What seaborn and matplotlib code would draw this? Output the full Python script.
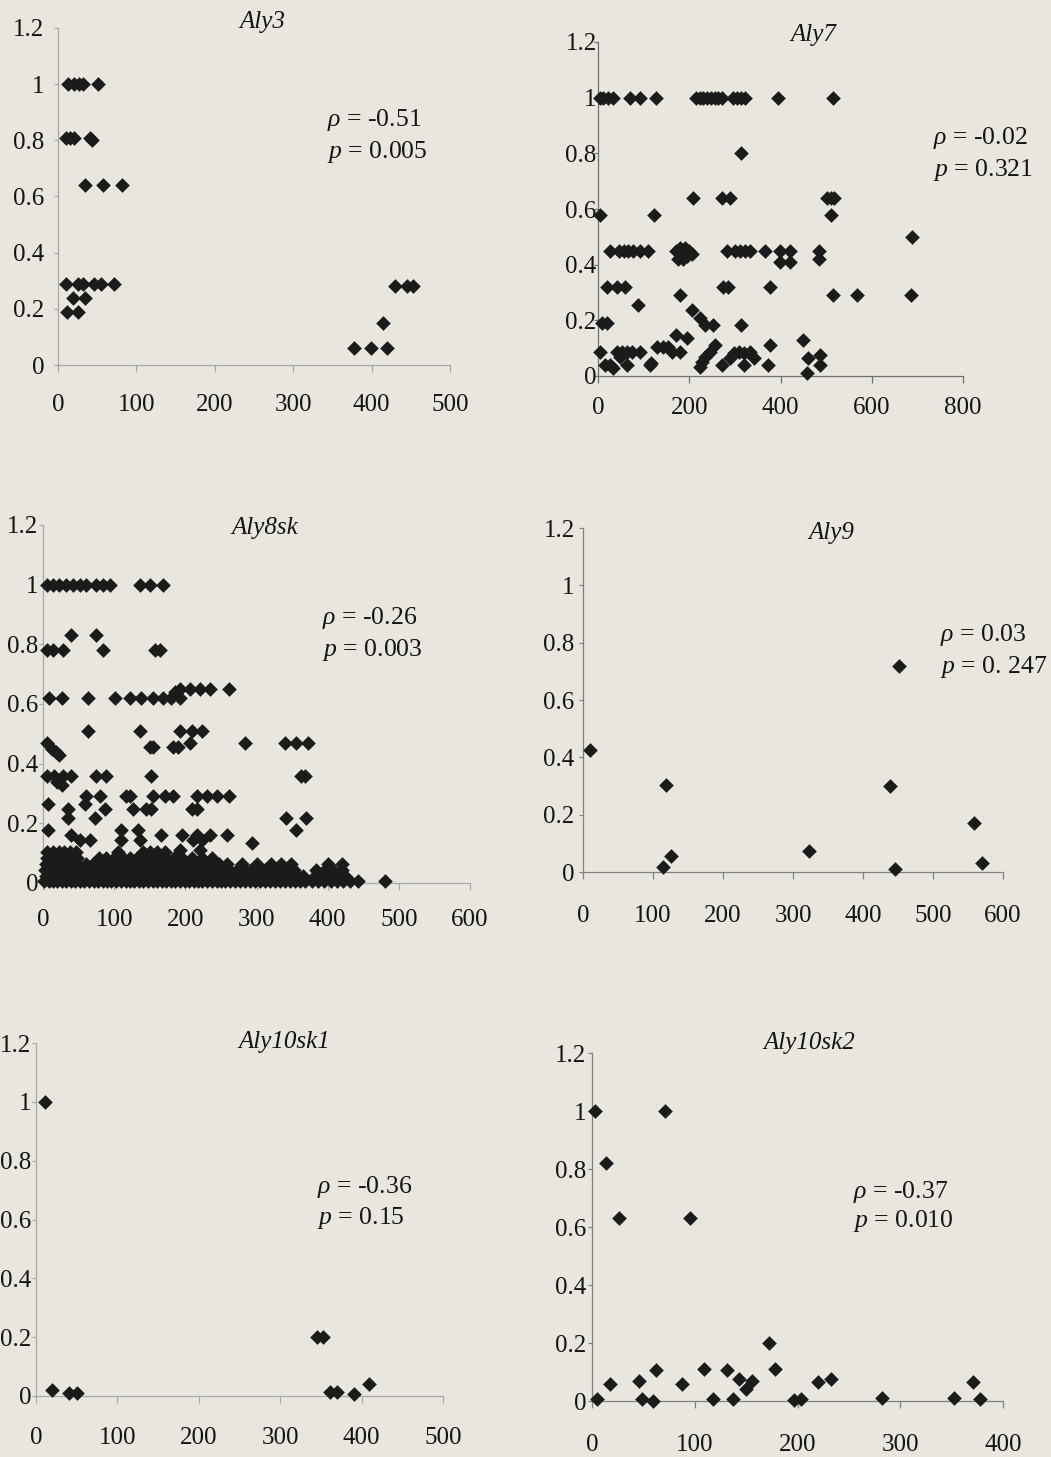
import matplotlib
matplotlib.use("Agg")
import matplotlib.pyplot as plt
import seaborn as sns
from matplotlib.ticker import FixedLocator, FixedFormatter

# ---------------- data ----------------
y_ticks = [0, 0.2, 0.4, 0.6, 0.8, 1, 1.2]
y_tick_labels = ["0", "0.2", "0.4", "0.6", "0.8", "1", "1.2"]

aly3_x = [13, 20, 27, 32, 51, 10, 15, 20, 41, 44, 35, 58, 82,
          10, 25, 32, 46, 55, 72, 19, 34, 11, 26,
          430, 445, 453, 414, 378, 399, 420]
aly3_y = [1, 1, 1, 1, 1, 0.81, 0.81, 0.81, 0.81, 0.80, 0.64, 0.64, 0.64,
          0.29, 0.29, 0.29, 0.29, 0.29, 0.29, 0.24, 0.24, 0.19, 0.19,
          0.28, 0.28, 0.28, 0.15, 0.06, 0.06, 0.06]

aly7_x = [4, 12, 22, 32, 70, 92, 127, 215, 223, 231, 239, 247, 256, 264, 272,
          296, 305, 313, 322, 395, 515,
          313,
          209, 271, 289, 503, 510, 517,
          4, 123, 511,
          688,
          26, 45, 56, 66, 77, 92, 110, 282, 300, 312, 322, 333, 366, 399, 421, 485,
          172, 180, 190, 200, 176, 186, 196, 205,
          399, 421, 485,
          19, 41, 59, 275, 285, 377,
          179, 515, 568, 686,
          88, 8, 19,
          205, 224, 235, 251, 313, 171, 194, 376, 449,
          4, 41, 52, 63, 74, 92, 129, 143, 154, 162, 180, 257, 246, 235, 227, 224,
          297, 308, 319, 333, 341, 289, 15, 26, 63, 114, 271, 320, 373, 48,
          461, 487, 487, 458, 32, 117]
aly7_y = [1, 1, 1, 1, 1, 1, 1, 1, 1, 1, 1, 1, 1, 1, 1,
          1, 1, 1, 1, 1, 1,
          0.80,
          0.64, 0.64, 0.64, 0.64, 0.64, 0.64,
          0.58, 0.58, 0.58,
          0.50,
          0.45, 0.45, 0.45, 0.45, 0.45, 0.45, 0.45, 0.45, 0.45, 0.45, 0.45, 0.45, 0.45, 0.45, 0.45, 0.45,
          0.45, 0.46, 0.46, 0.45, 0.42, 0.42, 0.43, 0.44,
          0.41, 0.41, 0.42,
          0.32, 0.32, 0.32, 0.32, 0.32, 0.32,
          0.29, 0.29, 0.29, 0.29,
          0.255, 0.19, 0.19,
          0.237, 0.207, 0.183, 0.183, 0.183, 0.147, 0.135, 0.111, 0.13,
          0.087, 0.087, 0.087, 0.087, 0.087, 0.087, 0.105, 0.105, 0.105, 0.087, 0.087,
          0.111, 0.087, 0.07, 0.052, 0.034,
          0.082, 0.087, 0.082, 0.087, 0.064, 0.064, 0.04, 0.04, 0.04, 0.04, 0.04, 0.04, 0.04, 0.07,
          0.064, 0.076, 0.04, 0.01, 0.03, 0.045]

aly8_top_x = [5, 14, 23, 33, 42, 52, 61, 75, 84, 94, 136, 150, 169,
              40, 75, 5, 14, 28, 84, 157, 164,
              192, 206, 220, 234, 185, 262,
              9, 26, 63, 101, 122, 138, 155, 169, 180, 192,
              63, 136, 192, 209, 223,
              206, 284, 340, 356, 373,
              5, 12, 18, 22, 150, 155, 183, 190,
              5, 16, 28, 40, 75, 89, 152, 363, 368, 26, 20,
              61, 80, 117, 122, 155, 171, 183, 216, 230, 244, 262,
              7, 59,
              35, 87, 127, 145, 152, 209, 216,
              35, 73, 342, 370,
              7, 110, 134, 356,
              40, 166, 195, 216, 234, 258,
              52, 66, 110, 136, 211, 223,
              293, 192, 220]
aly8_top_y = [1, 1, 1, 1, 1, 1, 1, 1, 1, 1, 1, 1, 1,
              0.83, 0.83, 0.78, 0.78, 0.78, 0.78, 0.78, 0.78,
              0.65, 0.65, 0.65, 0.65, 0.64, 0.65,
              0.62, 0.62, 0.62, 0.62, 0.62, 0.62, 0.62, 0.62, 0.62, 0.62,
              0.51, 0.51, 0.51, 0.51, 0.51,
              0.47, 0.47, 0.47, 0.47, 0.47,
              0.47, 0.45, 0.44, 0.43, 0.455, 0.455, 0.455, 0.455,
              0.36, 0.36, 0.36, 0.36, 0.36, 0.36, 0.36, 0.36, 0.36, 0.33, 0.34,
              0.29, 0.29, 0.29, 0.29, 0.29, 0.29, 0.29, 0.29, 0.29, 0.29, 0.29,
              0.266, 0.266,
              0.248, 0.248, 0.248, 0.248, 0.248, 0.248, 0.248,
              0.218, 0.218, 0.218, 0.218,
              0.179, 0.179, 0.179, 0.179,
              0.16, 0.16, 0.16, 0.16, 0.16, 0.16,
              0.145, 0.145, 0.145, 0.145, 0.145, 0.145,
              0.134, 0.11, 0.11]
# dense band near zero, one list of x positions per row
aly8_band_00 = [2, 8, 14, 20, 27, 33, 39, 45, 52, 58, 64, 71, 77, 84, 90, 96, 103, 109,
                116, 122, 128, 135, 141, 148, 154, 160, 167, 173, 180, 186, 192, 199,
                205, 212, 218, 224, 231, 237, 244, 250, 256, 263, 270, 277, 284, 291,
                298, 305, 312, 319, 326, 333, 340, 347, 354, 361, 368, 378, 386, 395,
                404, 413, 422, 432, 443, 480]
aly8_band_02 = [4, 11, 17, 24, 30, 37, 43, 50, 56, 63, 69, 76, 82, 89, 95, 102, 108, 115,
                121, 128, 134, 141, 147, 154, 160, 167, 173, 180, 186, 193, 199, 206,
                212, 219, 225, 232, 238, 245, 252, 260, 268, 276, 285, 294, 303, 312,
                321, 330, 339, 348, 357, 366, 382, 392, 402, 412, 424]
aly8_band_04 = [3, 9, 16, 22, 29, 35, 42, 49, 56, 63, 70, 77, 84, 91, 98, 105, 112, 119,
                126, 133, 140, 147, 154, 161, 168, 175, 182, 189, 196, 203, 210, 217,
                224, 231, 238, 245, 253, 262, 272, 282, 292, 302, 312, 322, 332, 342,
                352, 384, 396, 408, 420]
aly8_band_06 = [4, 11, 18, 25, 32, 40, 48, 60, 70, 80, 90, 100, 110, 120, 128, 136, 144,
                152, 160, 168, 178, 188, 198, 208, 218, 228, 238, 248, 258, 280, 300,
                320, 335, 348, 400, 420]
aly8_band_08 = [5, 12, 19, 26, 33, 40, 48, 78, 88, 100, 112, 122, 132, 142, 152, 162,
                172, 184, 196, 210, 224, 238]
aly8_band_10 = [6, 14, 22, 30, 38, 46, 105, 140, 150, 160, 172]
aly8_band_levels = [0.008, 0.025, 0.045, 0.065, 0.085, 0.105]

aly9_x = [10, 119, 114, 125, 323, 439, 445, 452, 559, 570]
aly9_y = [0.425, 0.303, 0.017, 0.055, 0.072, 0.30, 0.012, 0.719, 0.171, 0.031]

aly10sk1_x = [11, 20, 40, 50, 345, 352, 361, 370, 391, 409]
aly10sk1_y = [1.0, 0.02, 0.011, 0.011, 0.20, 0.20, 0.015, 0.015, 0.006, 0.04]

aly10sk2_x = [3, 5, 14, 18, 26, 46, 49, 59, 62, 71, 88, 95, 109, 118, 131, 137, 143,
              150, 156, 172, 178, 197, 203, 220, 233, 282, 352, 371, 378]
aly10sk2_y = [1.0, 0.006, 0.82, 0.058, 0.63, 0.069, 0.006, 0.0, 0.106, 1.0, 0.058, 0.63,
              0.11, 0.006, 0.106, 0.006, 0.077, 0.043, 0.069, 0.199, 0.11, 0.002, 0.006,
              0.066, 0.075, 0.012, 0.012, 0.064, 0.006]

names = ["Aly3", "Aly7", "Aly8sk", "Aly9", "Aly10sk1", "Aly10sk2"]
rho_text = ["-0.51", "-0.02", "-0.26", "0.03", "-0.36", "-0.37"]
p_text = ["0.005", "0.321", "0.003", "0. 247", "0.15", "0.010"]
x_max = [500, 800, 600, 600, 500, 400]
x_step = [100, 200, 100, 100, 100, 100]

# assemble Aly8sk
aly8_x = list(aly8_top_x)
aly8_y = list(aly8_top_y)
for lvl, row in zip(aly8_band_levels, [aly8_band_00, aly8_band_02, aly8_band_04,
                                       aly8_band_06, aly8_band_08, aly8_band_10]):
    aly8_x += row
    aly8_y += [lvl] * len(row)

series = [(aly3_x, aly3_y), (aly7_x, aly7_y), (aly8_x, aly8_y),
          (aly9_x, aly9_y), (aly10sk1_x, aly10sk1_y), (aly10sk2_x, aly10sk2_y)]

# ---------------- layout (pixels of the 1051x1457 canvas) ----------------
W, H = 1051, 1457
# x0, x1, y_bottom, y_top
boxes = [(58, 450, 365, 28), (598, 963, 376, 42), (43, 470, 883, 525),
         (583, 1003, 872, 528), (36, 443, 1396, 1043), (592, 1003, 1401, 1053)]
title_pos = [(262, 22), (813, 35), (265, 528), (831, 533), (284, 1042), (809, 1043)]
ann_pos = [(327, 120, 152), (933, 138, 170), (322, 618, 650),
           (940, 635, 667), (317, 1187, 1218), (853, 1192, 1221)]
xpads = [16, 10, 14, 19, 17, 19]
ypads = [7, -2, 0.5, 3, 0.5, 1]
spine_cols = ["#a8a8a8", "#707070", "#a8a8a8", "#808080", "#a8a8a8", "#808080"]

BG = "#e8e6df"
MARK = "#1b1b1b"
TXT = "#141414"
TICK_FS = 18
ANN_FS = 18.5
TITLE_FS = 18

sns.set_theme(style="ticks")
plt.rcParams["font.family"] = ["Liberation Serif", "DejaVu Serif"]
plt.rcParams["mathtext.fontset"] = "custom"
plt.rcParams["mathtext.rm"] = "Liberation Serif"
plt.rcParams["mathtext.it"] = "Liberation Serif:italic"

fig = plt.figure(figsize=(W / 100, H / 100), dpi=100, facecolor=BG)

for i, (xs, ys) in enumerate(series):
    x0, x1, yb, yt = boxes[i]
    ax = fig.add_axes([x0 / W, 1 - yb / H, (x1 - x0) / W, (yb - yt) / H])
    ax.set_facecolor("none")
    sns.scatterplot(x=xs, y=ys, ax=ax, marker="D", color=MARK, s=56,
                    linewidth=0, clip_on=False, legend=False, zorder=3)
    ax.set_xlim(0, x_max[i])
    ax.set_ylim(0, 1.2)
    xt = list(range(0, x_max[i] + 1, x_step[i]))
    ax.xaxis.set_major_locator(FixedLocator(xt))
    ax.xaxis.set_major_formatter(FixedFormatter([str(v) for v in xt]))
    ax.yaxis.set_major_locator(FixedLocator(y_ticks))
    ax.yaxis.set_major_formatter(FixedFormatter(y_tick_labels))
    for s in ["top", "right"]:
        ax.spines[s].set_visible(False)
    for s in ["left", "bottom"]:
        ax.spines[s].set_color(spine_cols[i])
        ax.spines[s].set_linewidth(0.9)
    ax.tick_params(axis="x", direction="out", length=5, width=0.9,
                   color=spine_cols[i], pad=xpads[i], labelsize=TICK_FS, labelcolor=TXT)
    ax.tick_params(axis="y", direction="out", length=3, width=0.9,
                   color=spine_cols[i], pad=ypads[i], labelsize=TICK_FS, labelcolor=TXT)
    ax.set_xlabel("")
    ax.set_ylabel("")

    tx, ty = title_pos[i]
    fig.text(tx / W, 1 - ty / H, names[i], style="italic", ha="center", va="center",
             fontsize=TITLE_FS, color=TXT)
    axp, ay1, ay2 = ann_pos[i]
    fig.text(axp / W, 1 - ay1 / H, r"$\rho$ = " + rho_text[i], ha="left", va="center",
             fontsize=ANN_FS, color=TXT)
    fig.text(axp / W, 1 - ay2 / H, r"$p$ = " + p_text[i], ha="left", va="center",
             fontsize=ANN_FS, color=TXT)

fig.savefig("out.png", dpi=100, facecolor=BG)
